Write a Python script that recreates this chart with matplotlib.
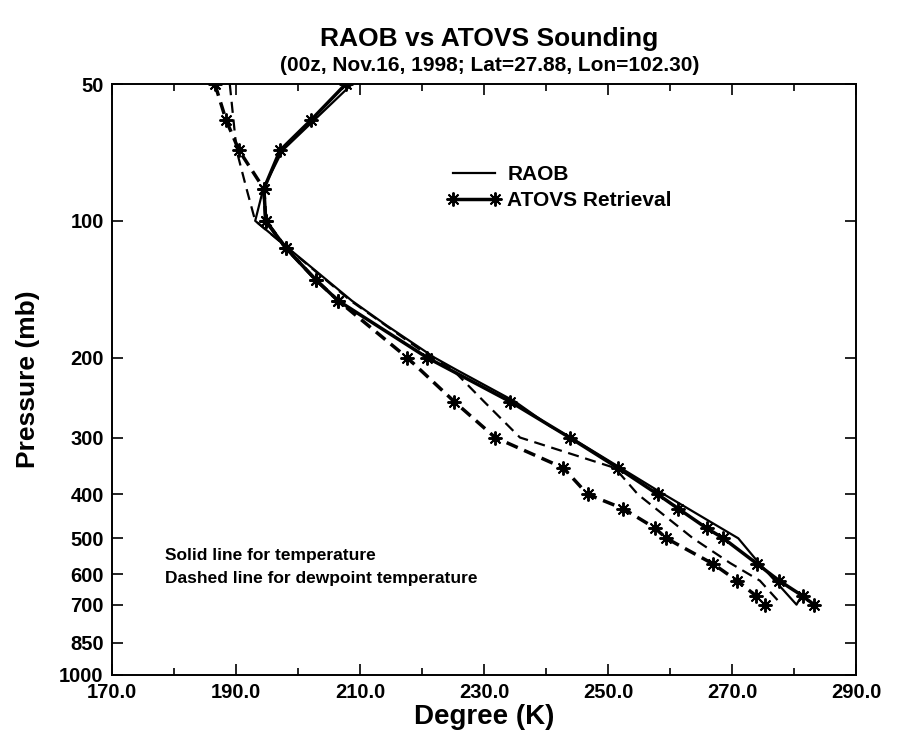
import matplotlib
matplotlib.use("Agg")
import matplotlib.pyplot as plt
from matplotlib.ticker import FixedLocator, MultipleLocator, NullLocator

plt.rcParams['font.family'] = ['Liberation Sans', 'DejaVu Sans']
plt.rcParams['font.weight'] = 'bold'

# ATOVS retrieval levels (mb) and values (K)
p_atovs = [50, 60, 70, 85, 100, 115, 135, 150, 200, 250, 300, 350, 400, 430, 475, 500, 570, 620, 670, 700]
t_atovs = [207.7, 202.1, 197.1, 194.5, 194.8, 198.1, 202.9, 206.5, 220.8, 234.2, 243.8, 251.6,
           258.0, 261.3, 265.9, 268.6, 274.1, 277.6, 281.4, 283.2]
td_atovs = [186.6, 188.4, 190.5, 194.5, 194.8, 198.1, 202.9, 206.5, 217.6, 225.2, 231.8, 242.8,
            246.7, 252.4, 257.6, 259.4, 267.0, 270.8, 273.9, 275.3]

# RAOB temperature
p_raob_t = [50, 70, 85, 100, 150, 170, 200, 213, 250, 283, 300, 400, 500, 564, 700, 670]
t_raob = [208.7, 197.5, 194.4, 193.1, 208.7, 214.3, 222.0, 225.6, 235.0, 240.6, 244.0, 259.0,
          271.0, 274.2, 280.4, 281.2]

# RAOB dewpoint
p_raob_td = [50, 70, 85, 100, 150, 200, 213, 250, 300, 350, 400, 500, 567, 620, 700]
td_raob = [189.0, 190.1, 191.7, 193.1, 208.5, 221.5, 225.0, 230.0, 235.8, 251.1, 254.8, 263.7,
           269.7, 274.5, 278.0]

p_ticks = [50, 100, 200, 300, 400, 500, 600, 700, 850, 1000]
t_ticks = [170, 190, 210, 230, 250, 270, 290]

fig = plt.figure(figsize=(9.03, 7.34), dpi=100)
ax = fig.add_axes([0.124, 0.0804, 0.824, 0.805])

star = (8, 2, 0)
ax.plot(t_raob, p_raob_t, color='black', lw=1.6, label='RAOB')
ax.plot(td_raob, p_raob_td, color='black', lw=1.6, dashes=(5, 3))
ax.plot(t_atovs, p_atovs, color='black', lw=2.5, marker=star, ms=10, mew=1.4,
        label='ATOVS Retrieval')
ax.plot(td_atovs, p_atovs, color='black', lw=2.5, dashes=(3.5, 2), marker=star, ms=10, mew=1.4)

ax.set_yscale('log')
ax.set_ylim(1000, 50)
ax.set_xlim(170, 290)
ax.yaxis.set_major_locator(FixedLocator(p_ticks))
ax.yaxis.set_minor_locator(NullLocator())
ax.set_yticklabels([str(p) for p in p_ticks])
ax.xaxis.set_major_locator(FixedLocator(t_ticks))
ax.xaxis.set_minor_locator(MultipleLocator(10))
ax.xaxis.set_major_formatter(plt.FormatStrFormatter('%.1f'))
ax.tick_params(which='both', direction='in', top=True, right=True, labelsize=14.5)
ax.tick_params(which='major', length=8, width=1.2, pad=6)
ax.tick_params(which='minor', length=5, width=1.2)
for s in ax.spines.values():
    s.set_linewidth(1.4)

ax.set_xlabel('Degree (K)', fontsize=20, fontweight='bold', labelpad=1)
ax.set_ylabel('Pressure (mb)', fontsize=19, fontweight='bold', labelpad=14)

fig.text(0.542, 0.947, 'RAOB vs ATOVS Sounding', ha='center', va='center',
         fontsize=19, fontweight='bold')
fig.text(0.542, 0.911, '(00z, Nov.16, 1998; Lat=27.88, Lon=102.30)', ha='center', va='center',
         fontsize=15, fontweight='bold')

ax.text(0.071, 0.203, 'Solid line for temperature', transform=ax.transAxes,
        fontsize=12.5, fontweight='bold', va='center')
ax.text(0.071, 0.164, 'Dashed line for dewpoint temperature', transform=ax.transAxes,
        fontsize=12.5, fontweight='bold', va='center')

leg = ax.legend(loc='upper left', bbox_to_anchor=(0.425, 0.895), frameon=False,
                fontsize=15, numpoints=2, handlelength=2.6, handletextpad=0.3,
                labelspacing=0.35)
for t in leg.get_texts():
    t.set_fontweight('bold')

fig.savefig('out.png', dpi=100)
